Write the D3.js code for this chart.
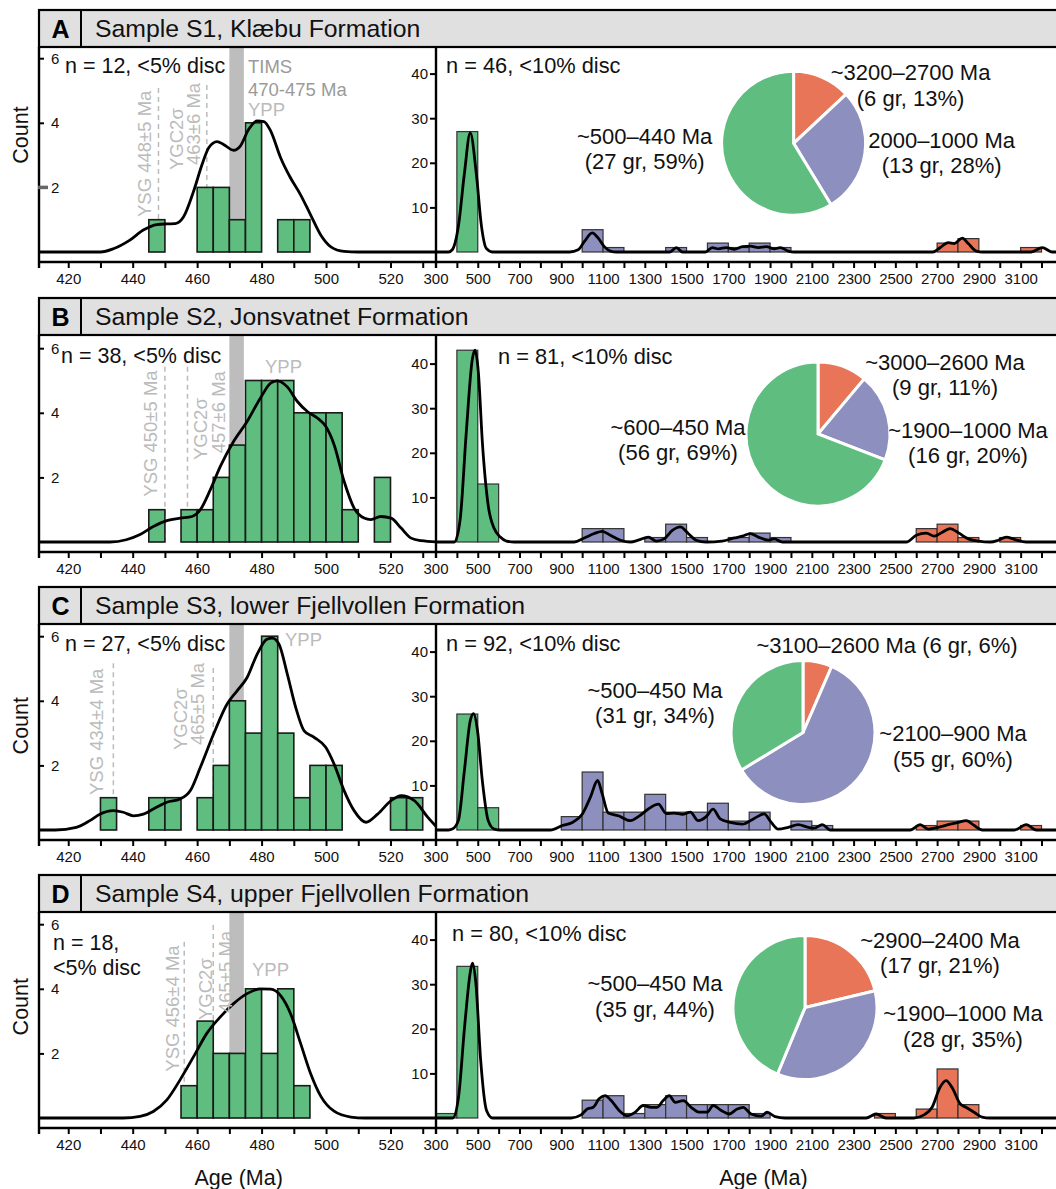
<!DOCTYPE html>
<html>
<head>
<meta charset="utf-8">
<!-- D3.js -->
<script src="https://cdn.jsdelivr.net/npm/d3@7"></script>
<style>
  body { margin: 0; background: #fff; }
  svg { display: block; font-family: "Liberation Sans", Arial, sans-serif; }
</style>
</head>
<body>
<div id="grafico"></div>
<script>
// ---------- datos ----------
const letters = ["A", "B", "C", "D"];
const titles = ["Sample S1, Klæbu Formation", "Sample S2, Jonsvatnet Formation",
                "Sample S3, lower Fjellvollen Formation", "Sample S4, upper Fjellvollen Formation"];
const leftNotes = [["n = 12, <5% disc"], ["n = 38, <5% disc"], ["n = 27, <5% disc"], ["n = 18,", "<5% disc"]];
const rightNotes = ["n = 46, <10% disc", "n = 81, <10% disc", "n = 92, <10% disc", "n = 80, <10% disc"];

// histograma joven, bins de 5 Ma (inicio del bin)
const youngBins = [430, 435, 440, 445, 450, 455, 460, 465, 470, 475, 480, 485, 490, 495, 500, 505, 510, 515, 520, 525];
const youngCountsA = [0, 0, 0, 1, 0, 0, 2, 2, 1, 4, 0, 1, 1, 0, 0, 0, 0, 0, 0, 0];
const youngCountsB = [0, 0, 0, 1, 0, 1, 1, 2, 3, 5, 5, 5, 4, 4, 4, 1, 0, 2, 0, 0];
const youngCountsC = [1, 0, 0, 1, 1, 0, 1, 2, 4, 3, 6, 3, 1, 2, 2, 0, 0, 0, 1, 1];
const youngCountsD = [0, 0, 0, 0, 0, 1, 3, 2, 2, 4, 2, 4, 1, 0, 0, 0, 0, 0, 0, 0];

// histograma completo, bins de 100 Ma
const oldBins = [300, 400, 500, 600, 700, 800, 900, 1000, 1100, 1200, 1300, 1400, 1500, 1600, 1700,
                 1800, 1900, 2000, 2100, 2200, 2300, 2400, 2500, 2600, 2700, 2800, 2900, 3000, 3100];
const oldCountsA = [0, 27, 0, 0, 0, 0, 0, 5, 1, 0, 0, 1, 0, 2, 1, 2, 1, 0, 0, 0, 0, 0, 0, 0, 2, 3, 0, 0, 1];
const oldCountsB = [0, 43, 13, 0, 0, 0, 0, 3, 3, 0, 1, 4, 1, 0, 1, 2, 1, 0, 0, 0, 0, 0, 0, 3, 4, 1, 0, 1, 0];
const oldCountsC = [0, 26, 5, 0, 0, 0, 3, 13, 4, 4, 8, 4, 4, 6, 2, 4, 0, 2, 1, 0, 0, 0, 0, 1, 2, 2, 0, 0, 1];
const oldCountsD = [1, 34, 0, 0, 0, 0, 0, 4, 5, 1, 3, 5, 3, 3, 3, 1, 0, 0, 0, 0, 0, 1, 0, 2, 11, 3, 0, 0, 0];

// curvas KDE [edad, cuenta]
const youngKdeA = [[410,0],[430,0],[434,0.1],[439,0.36],[443.3,0.68],[447.5,0.85],[450.6,0.87],[453.2,0.88],[455.8,1.09],
  [458.9,1.88],[461.5,2.7],[463.6,3.23],[466.2,3.42],[468.2,3.33],[471.3,3.15],[473.4,3.28],[476,3.8],[478.6,4.06],
  [480.7,4.04],[482.8,3.75],[485.9,2.92],[489,2.29],[492.1,1.77],[495.2,1.15],[498.4,0.52],[501.5,0.16],[505.6,0.02],[510,0],[535,0]];
const youngKdeB = [[410,0],[433,0],[438,0.07],[442.3,0.23],[446.4,0.48],[450.6,0.66],[454.7,0.74],[458.4,0.79],[461,1.0],
  [464.1,1.62],[467.2,2.34],[471.3,3.11],[475.5,3.73],[479.6,4.45],[482.8,4.92],[484.8,4.99],[487.9,4.81],[491.1,4.35],
  [494.2,4.04],[497.3,3.84],[499.9,3.58],[502.5,3.01],[505.6,1.88],[508.7,1.05],[511.8,0.74],[513.9,0.69],[517,0.79],
  [520.2,0.74],[523.3,0.43],[526.4,0.12],[529.5,0.04],[535,0]];
const youngKdeC = [[410,0],[416,0],[422.5,0.08],[426.7,0.29],[429.8,0.49],[434,0.6],[437.1,0.55],[440.2,0.44],[443.3,0.49],
  [446.4,0.65],[450.6,0.86],[454.7,0.96],[457.9,1.22],[461,1.94],[465.1,2.97],[469.3,3.9],[472.4,4.31],[475.5,4.72],
  [478.6,5.44],[481.7,5.91],[483.3,5.94],[485.4,5.75],[488,4.82],[490.6,3.79],[493.2,3.07],[496.3,2.87],[499.9,2.56],
  [502.5,2.04],[505.6,1.22],[508.7,0.6],[512.4,0.24],[516,0.49],[520.2,0.91],[523.3,1.06],[527.4,0.91],[531.6,0.39],[534.7,0.05]];
const youngKdeD = [[410,0],[437,0],[442.3,0.05],[446.4,0.2],[450.6,0.56],[454.7,1.18],[458.9,1.9],[463,2.62],[467.2,3.13],
  [471.3,3.54],[475.5,3.85],[479.6,4.0],[482.8,3.99],[485.9,3.79],[489,3.23],[492.1,2.31],[495.2,1.38],[498.4,0.67],
  [502.5,0.21],[507.7,0.03],[512,0],[535,0]];

const oldKdeA = [[300,0],[360,0],[378,0.5],[407,5.7],[436,17.6],[464,26.7],[493,17.6],[518,5.7],[541,0.8],[570,0],
  [940,0],[981,0.5],[1010,2.3],[1048,4.3],[1077,3.1],[1106,1.2],[1135,0.2],[1165,0],[1420,0],[1451,1.0],[1480,0],
  [1590,0],[1623,1.0],[1652,0.7],[1690,1.0],[1729,0.6],[1767,1.2],[1805,1.3],[1844,1.0],[1882,1.2],[1920,0.7],
  [1949,1.0],[1987,0.2],[2016,0],[2680,0],[2715,1.0],[2753,2.1],[2782,1.9],[2821,3.1],[2849,1.9],[2888,0.2],[2917,0],
  [3150,0],[3204,1.0],[3250,0],[3300,0]];
const oldKdeB = [[300,0],[370,0],[388,0],[416,5.2],[445,24.6],[474,41],[487,43],[503,38],[522,22.4],[550,8.2],[579,3.0],
  [608,1.1],[637,0.2],[675,0],[962,0],[1010,0.9],[1058,1.9],[1096,2.4],[1135,1.5],[1183,0.4],[1231,0],[1269,0.4],
  [1317,1.1],[1355,0.2],[1393,0.7],[1432,2.6],[1470,3.4],[1508,1.9],[1546,0.4],[1594,0],[1671,0.2],[1729,0.9],
  [1767,1.3],[1805,1.9],[1844,1.1],[1892,0.4],[1920,0.7],[1959,0],[2552,0],[2600,1.5],[2648,2.0],[2686,1.3],
  [2725,2.2],[2763,3.0],[2801,2.1],[2849,0.7],[2897,0.2],[2955,0],[2993,0.4],[3031,1.1],[3070,0.6],[3127,0],[3300,0]];
const oldKdeC = [[300,0],[360,0],[378,0.2],[407,2.1],[436,13.3],[464,24.5],[480,26.1],[499,22.2],[522,11],[550,2.1],
  [579,0.2],[608,0],[848,0],[905,1.0],[953,1.7],[1001,3.6],[1039,7.3],[1074,11.1],[1096,8.1],[1125,3.8],[1173,3.2],
  [1231,2.1],[1269,3.0],[1317,4.7],[1365,5.8],[1403,3.7],[1441,3.8],[1480,3.5],[1518,4.0],[1556,2.1],[1594,3.0],
  [1627,4.7],[1661,2.5],[1709,1.7],[1767,1.3],[1824,2.6],[1872,3.6],[1901,2.0],[1939,0.2],[1987,0.6],[2035,1.2],
  [2083,0.6],[2112,0.4],[2150,1.2],[2188,0],[2571,0],[2619,1.2],[2658,0.2],[2705,0.6],[2763,1.3],[2801,1.7],
  [2840,2.1],[2878,1.0],[2917,0],[3070,0],[3127,1.2],[3175,0],[3300,0]];
const oldKdeD = [[300,0],[362,0],[380,0],[408,4.7],[437,20.5],[466,33.2],[475,34.7],[491,30.2],[514,12.9],[542,1.7],
  [571,0],[947,0],[995,0.7],[1024,2.0],[1053,2.4],[1081,4.3],[1110,5.0],[1139,3.9],[1177,1.7],[1216,0.5],[1254,1.3],
  [1292,2.8],[1330,2.4],[1359,2.4],[1388,3.9],[1417,5.0],[1446,3.5],[1484,3.9],[1522,2.4],[1560,1.3],[1599,1.3],
  [1627,2.8],[1666,1.7],[1704,0.9],[1742,2.0],[1771,2.4],[1809,0.9],[1857,0.4],[1886,1.3],[1924,0.3],[1972,0],
  [2360,0],[2408,0.9],[2455,0],[2589,0],[2637,0.7],[2676,2.4],[2714,6.9],[2743,8.4],[2771,6.9],[2810,3.2],[2838,2.4],
  [2877,1.3],[2915,0.2],[2953,0],[3300,0]];

// marcadores de edad joven
const ysgAges = [448, 450, 434, 456];
const ysgLabels = ["YSG 448±5 Ma", "YSG 450±5 Ma", "YSG 434±4 Ma", "YSG 456±4 Ma"];
const ygcAges = [463, 457, 465, 465];
const ygcLabels = ["463±6 Ma", "457±6 Ma", "465±5 Ma", "465±5 Ma"];
const timsBand = [470, 474.5];
const timsLabels = ["TIMS", "470-475 Ma"];

// tortas: granos por grupo (viejo, medio, joven)
const pieGroups = ["old", "mid", "young"];
const pieGrainsA = [6, 13, 27];
const pieGrainsB = [9, 16, 56];
const pieGrainsC = [6, 55, 31];
const pieGrainsD = [17, 28, 35];
const pieTextA = [["~3200–2700 Ma", "(6 gr, 13%)"], ["2000–1000 Ma", "(13 gr, 28%)"], ["~500–440 Ma", "(27 gr, 59%)"]];
const pieTextB = [["~3000–2600 Ma", "(9 gr, 11%)"], ["~1900–1000 Ma", "(16 gr, 20%)"], ["~600–450 Ma", "(56 gr, 69%)"]];
const pieTextC = [["~3100–2600 Ma (6 gr, 6%)"], ["~2100–900 Ma", "(55 gr, 60%)"], ["~500–450 Ma", "(31 gr, 34%)"]];
const pieTextD = [["~2900–2400 Ma", "(17 gr, 21%)"], ["~1900–1000 Ma", "(28 gr, 35%)"], ["~500–450 Ma", "(35 gr, 44%)"]];

const youngCounts = [youngCountsA, youngCountsB, youngCountsC, youngCountsD];
const oldCounts = [oldCountsA, oldCountsB, oldCountsC, oldCountsD];
const youngKde = [youngKdeA, youngKdeB, youngKdeC, youngKdeD];
const oldKde = [oldKdeA, oldKdeB, oldKdeC, oldKdeD];
const pieGrains = [pieGrainsA, pieGrainsB, pieGrainsC, pieGrainsD];
const pieText = [pieTextA, pieTextB, pieTextC, pieTextD];

// ---------- diseño ----------
const layout = [
  { top: 10, base: 242, pie: [793.6, 133.3], pieText: [[117, -71], [148, -3], [-149, -7]],
    nLeft: [65, 55], nRight: [446, 55], count: 125,
    ysg: [78, -13.7, 207], ygc: [75, -30, -13, 160, 155], ypp: [248, 100] },
  { top: 298, base: 244, pie: [818, 136], pieText: [[127, -72], [150, -4], [-140, -7]],
    nLeft: [61, 57], nRight: [498, 58.7], count: null,
    ysg: [68.7, -14.4, 198.7], ygc: [68.7, 12.7, 31, 162, 155.3], ypp: [265, 68.7] },
  { top: 587, base: 243, pie: [803, 145.5], pieText: [[84, -87.5], [150, 1], [-148, -42.5]],
    nLeft: [65, 56.3], nRight: [446, 56.3], count: 138.7,
    ysg: [76.3, -16.7, 208], ygc: [81, -32.3, -15.6, 163, 158], ypp: [285, 52.3] },
  { top: 875, base: 243, pie: [805, 132.5], pieText: [[135, -67.5], [158, 6], [-150, -24]],
    nLeft: [53, 67.5], nRight: [452, 58.3], count: 131.7,
    ysg: [66.7, -11.7, 196.7], ygc: [50, -8, 12, 145, 138], ypp: [252, 95] }
];
const noteLineGap = 24.5;

const colores = { young: "#5ebd7f", mid: "#8d8fbe", old: "#e87557" };
const grisBanda = "#bdbdbd", grisTexto = "#bbbbbb";
const headerH = 37;

const ancho = 1056, alto = 1189;
const svg = d3.select("#grafico").append("svg")
  .attr("width", ancho).attr("height", alto);

const xYoung = d3.scaleLinear().domain([410.4, 533.5]).range([37.3, 434]);
const xOld = d3.scaleLinear().domain([300, 3300]).range([436, 1062.4]);

function colorBin(b) {
  if (b < 700) return colores.young;
  if (b < 2300) return colores.mid;
  return colores.old;
}

function textoVertical(g, x, y, txt, fill) {
  g.append("text")
    .attr("transform", `translate(${x},${y}) rotate(-90)`)
    .attr("dy", "0.35em")
    .attr("fill", fill)
    .style("font-size", "18.5px")
    .text(txt);
}

const defs = svg.append("defs");

layout.forEach((L, i) => {
  const top = L.top;
  const base = top + L.base;
  const plotTop = top + headerH;
  const axisY = base + 10;
  const g = svg.append("g");

  const yYoung = d3.scaleLinear().domain([0, 6]).range([base, base - 6 * 32.3]);
  const yOld = d3.scaleLinear().domain([0, 40]).range([base, base - 40 * 4.46]);

  // recortes
  defs.append("clipPath").attr("id", "clipL" + i).append("rect")
    .attr("x", 39).attr("y", plotTop).attr("width", 436 - 39).attr("height", base - plotTop + 4);
  defs.append("clipPath").attr("id", "clipR" + i).append("rect")
    .attr("x", 436).attr("y", plotTop).attr("width", 640).attr("height", base - plotTop + 4);

  const gl = g.append("g").attr("clip-path", `url(#clipL${i})`);
  const gr = g.append("g").attr("clip-path", `url(#clipR${i})`);

  // banda TIMS
  gl.append("rect")
    .attr("x", xYoung(timsBand[0])).attr("y", plotTop)
    .attr("width", xYoung(timsBand[1]) - xYoung(timsBand[0]))
    .attr("height", base - plotTop)
    .attr("fill", grisBanda);

  // lineas YSG / YGC2σ
  gl.append("line")
    .attr("x1", xYoung(ysgAges[i])).attr("x2", xYoung(ysgAges[i]))
    .attr("y1", top + L.ysg[0]).attr("y2", base)
    .attr("stroke", grisTexto).attr("stroke-width", 1.5).attr("stroke-dasharray", "5,4");
  gl.append("line")
    .attr("x1", xYoung(ygcAges[i])).attr("x2", xYoung(ygcAges[i]))
    .attr("y1", top + L.ygc[0]).attr("y2", base)
    .attr("stroke", grisTexto).attr("stroke-width", 1.5).attr("stroke-dasharray", "5,4");

  // barras jovenes
  gl.selectAll("rect.bar").data(youngBins.map((b, k) => [b, youngCounts[i][k]]).filter(d => d[1] > 0))
    .join("rect").attr("class", "bar")
    .attr("x", d => xYoung(d[0]))
    .attr("y", d => yYoung(d[1]))
    .attr("width", d => xYoung(d[0] + 5) - xYoung(d[0]))
    .attr("height", d => base - yYoung(d[1]))
    .attr("fill", colores.young).attr("stroke", "#1a1a1a").attr("stroke-width", 1.6);

  // barras completas
  gr.selectAll("rect.bar").data(oldBins.map((b, k) => [b, oldCounts[i][k]]).filter(d => d[1] > 0))
    .join("rect").attr("class", "bar")
    .attr("x", d => xOld(d[0]))
    .attr("y", d => yOld(d[1]))
    .attr("width", d => xOld(d[0] + 100) - xOld(d[0]))
    .attr("height", d => base - yOld(d[1]))
    .attr("fill", d => colorBin(d[0])).attr("stroke", "#333").attr("stroke-width", 1.2);

  // KDE
  const lineaL = d3.line().x(d => xYoung(d[0])).y(d => yYoung(d[1])).curve(d3.curveMonotoneX);
  const lineaR = d3.line().x(d => xOld(d[0])).y(d => yOld(d[1])).curve(d3.curveMonotoneX);
  gl.append("path").attr("d", lineaL(youngKde[i]))
    .attr("fill", "none").attr("stroke", "#000").attr("stroke-width", 2.8);
  gr.append("path").attr("d", lineaR(oldKde[i]))
    .attr("fill", "none").attr("stroke", "#000").attr("stroke-width", 2.8);

  // torta
  const pie = d3.pie().sort(null)(pieGrains[i]);
  const arc = d3.arc().innerRadius(0).outerRadius(72);
  const gp = g.append("g").attr("transform", `translate(${L.pie[0]},${top + L.pie[1]})`);
  gp.selectAll("path").data(pie).join("path")
    .attr("d", arc)
    .attr("fill", (d, k) => colores[pieGroups[k]])
    .attr("stroke", "#fff").attr("stroke-width", 3);
  pieText[i].forEach((lines, k) => {
    lines.forEach((t, j) => {
      gp.append("text")
        .attr("x", L.pieText[k][0]).attr("y", L.pieText[k][1] + j * 25.5)
        .attr("dy", "0.35em").attr("text-anchor", "middle")
        .style("font-size", "22px").attr("fill", "#111")
        .text(t);
    });
  });

  // etiquetas grises
  textoVertical(g, xYoung(ysgAges[i]) + L.ysg[1], top + L.ysg[2], ysgLabels[i], grisTexto);
  textoVertical(g, xYoung(ygcAges[i]) + L.ygc[1], top + L.ygc[3], "YGC2σ", grisTexto);
  textoVertical(g, xYoung(ygcAges[i]) + L.ygc[2], top + L.ygc[4], ygcLabels[i], grisTexto);
  if (i === 0) {
    timsLabels.forEach((t, j) => {
      g.append("text").attr("x", L.ypp[0]).attr("y", top + 56.7 + j * 22.5)
        .attr("dy", "0.35em").attr("fill", "#9a9a9a").style("font-size", "18.5px").text(t);
    });
  }
  g.append("text").attr("x", L.ypp[0]).attr("y", top + L.ypp[1])
    .attr("dy", "0.35em").attr("fill", grisTexto).style("font-size", "18.5px").text("YPP");

  // marco y encabezado
  g.append("rect").attr("x", 39).attr("y", top).attr("width", 1030).attr("height", headerH)
    .attr("fill", "#e0e0e0").attr("stroke", "#000").attr("stroke-width", 2.2);
  g.append("line").attr("x1", 81).attr("x2", 81).attr("y1", top).attr("y2", top + headerH)
    .attr("stroke", "#000").attr("stroke-width", 2);
  g.append("text").attr("x", 60.5).attr("y", top + headerH / 2).attr("dy", "0.36em")
    .attr("text-anchor", "middle").style("font-size", "25px").style("font-weight", "bold")
    .text(letters[i]);
  g.append("text").attr("x", 95).attr("y", top + headerH / 2).attr("dy", "0.36em")
    .style("font-size", "24.8px").attr("fill", "#111").text(titles[i]);

  g.append("line").attr("x1", 39).attr("x2", 39).attr("y1", plotTop).attr("y2", axisY + 6)
    .attr("stroke", "#000").attr("stroke-width", 2.4);
  g.append("line").attr("x1", 436).attr("x2", 436).attr("y1", plotTop).attr("y2", axisY + 6)
    .attr("stroke", "#000").attr("stroke-width", 2.4);
  g.append("line").attr("x1", 38).attr("x2", 1070).attr("y1", axisY).attr("y2", axisY)
    .attr("stroke", "#000").attr("stroke-width", 2.4);

  // ejes x
  const ejeL = d3.axisBottom(xYoung).tickValues(d3.range(420, 531, 10))
    .tickSize(6).tickPadding(5).tickFormat(d => d % 20 === 0 ? d : "");
  const ejeR = d3.axisBottom(xOld).tickValues(d3.range(400, 3300, 100))
    .tickSize(6).tickPadding(5).tickFormat(d => (d - 300) % 200 === 0 ? d : "");
  [ejeL, ejeR].forEach(eje => {
    const a = g.append("g").attr("transform", `translate(0,${axisY})`).call(eje);
    a.select(".domain").remove();
    a.selectAll("line").attr("stroke-width", 2);
    a.selectAll("text").style("font-size", "15px").attr("fill", "#111")
      .style("font-family", "'Liberation Sans', Arial, sans-serif");
  });
  g.append("text").attr("x", 436).attr("y", axisY + 17).attr("dy", "0.35em")
    .attr("text-anchor", "middle").style("font-size", "15px").attr("fill", "#111").text("300");

  // ejes y
  const ejeYL = d3.axisRight(yYoung).tickValues([2, 4, 6]).tickSize(5).tickPadding(7)
    .tickFormat(d3.format("d"));
  const ejeYR = d3.axisLeft(yOld).tickValues([10, 20, 30, 40]).tickSize(6).tickPadding(2)
    .tickFormat(d3.format("d"));
  const ayl = g.append("g").attr("transform", "translate(39,0)").call(ejeYL);
  const ayr = g.append("g").attr("transform", "translate(436,0)").call(ejeYR);
  [ayl, ayr].forEach(a => {
    a.select(".domain").remove();
    a.selectAll("line").attr("stroke-width", 2);
    a.selectAll("text").style("font-size", "15px").attr("fill", "#111")
      .style("font-family", "'Liberation Sans', Arial, sans-serif");
  });
  if (i === 0) {
    g.append("line").attr("x1", 38).attr("x2", 48).attr("y1", yYoung(2)).attr("y2", yYoung(2))
      .attr("stroke", "#666").attr("stroke-width", 3.5);
  }

  // notas n
  leftNotes[i].forEach((t, j) => {
    g.append("text").attr("x", L.nLeft[0]).attr("y", top + L.nLeft[1] + j * noteLineGap)
      .attr("dy", "0.35em").style("font-size", "21.5px").attr("fill", "#111").text(t);
  });
  g.append("text").attr("x", L.nRight[0]).attr("y", top + L.nRight[1])
    .attr("dy", "0.35em").style("font-size", "21.8px").attr("fill", "#111").text(rightNotes[i]);

  if (L.count !== null) {
    g.append("text").attr("transform", `translate(20,${top + L.count}) rotate(-90)`)
      .attr("dy", "0.35em").attr("text-anchor", "middle")
      .style("font-size", "21.5px").attr("fill", "#111").text("Count");
  }
});

// titulos eje x
[[238.7, "Age (Ma)"], [763.4, "Age (Ma)"]].forEach(d => {
  svg.append("text").attr("x", d[0]).attr("y", 1177).attr("dy", "0.35em")
    .attr("text-anchor", "middle").style("font-size", "21.5px").attr("fill", "#111").text(d[1]);
});
</script>
</body>
</html>
